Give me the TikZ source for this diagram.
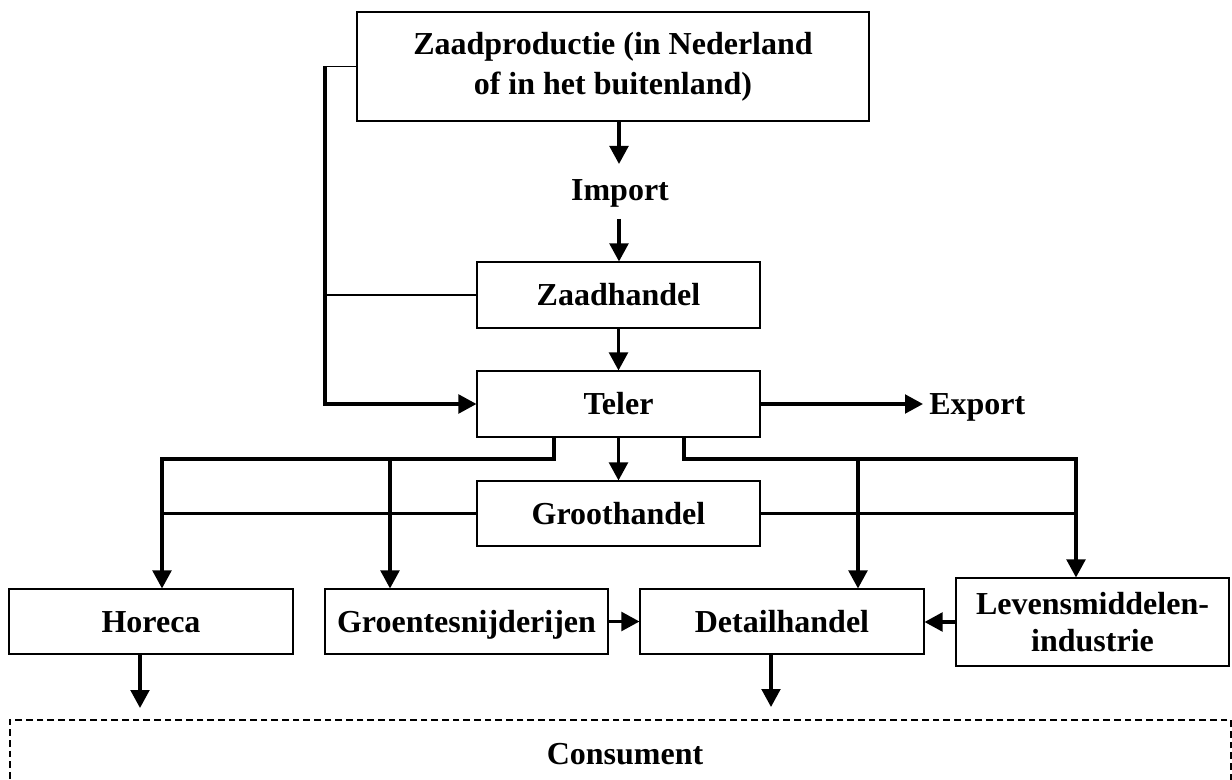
\documentclass[tikz,border=0pt]{standalone}
\usepackage{fontspec}
\setmainfont{Liberation Serif}
\usetikzlibrary{arrows.meta}
\begin{document}
\begin{tikzpicture}[x=0.75pt,y=-0.75pt,
  box/.style={draw, line width=0.8pt, inner sep=0pt, align=center,
    font=\bfseries\fontsize{24}{29}\selectfont},
  sbox/.style={box, text height=16.5pt, text depth=0pt},
  lbl/.style={inner sep=0pt, text height=16.5pt, text depth=0pt,
    font=\bfseries\fontsize{24}{29}\selectfont},
  thickline/.style={line width=2.4pt},
  arr/.style={line width=2.4pt, -{Triangle[length=13.5pt,width=14pt]}},
  thinline/.style={line width=0.8pt}]
\useasboundingbox (0,0) rectangle (1232,780);

% nodes
\node[box, minimum width=384pt, minimum height=81.75pt, font=\bfseries\fontsize{24}{30}\selectfont]
  (zaad) at (613,66.5) {Zaadproductie (in Nederland\\of in het buitenland)};
\node[lbl] (import) at (620,190) {Import};
\node[sbox, minimum width=212.25pt, minimum height=49.5pt] (zhandel) at (618.5,295) {Zaadhandel};
\node[sbox, minimum width=212.25pt, minimum height=49.5pt] (teler) at (618.5,404) {Teler};
\node[lbl, inner sep=4.5pt, anchor=west] (export) at (923,404) {Export};
\node[sbox, minimum width=212.25pt, minimum height=48.75pt] (groot) at (618.5,513.5) {Groothandel};
\node[sbox, minimum width=213pt, minimum height=48.75pt] (horeca) at (151,621.5) {Horeca};
\node[sbox, minimum width=212.25pt, minimum height=48.75pt] (groente) at (466.5,621.5) {Groentesnijderijen};
\node[sbox, minimum width=213pt, minimum height=48.75pt] (detail) at (782,621.5) {Detailhandel};
\node[box, minimum width=204.75pt, minimum height=66pt, font=\bfseries\fontsize{24}{28}\selectfont]
  (levens) at (1092.5,622) {Levensmiddelen-\\industrie};
\node[draw, dashed, dash pattern=on 5pt off 3pt, line width=1pt, inner sep=0pt,
  minimum width=915.75pt, minimum height=49.5pt, text height=16.5pt, text depth=0pt,
  font=\bfseries\fontsize{24}{29}\selectfont] (cons) at (620.5,753) {};
\node[lbl] (constext) at (625,753) {Consument};

% coordinates
\coordinate (lft) at (325,66.5);
\coordinate (imp1) at (619,164);
\coordinate (imp2) at (619,219);
\coordinate (tl) at (554,459);
\coordinate (hl) at (162,459);
\coordinate (gl) at (390,459);
\coordinate (tr) at (684,459);
\coordinate (lr) at (1076,459);
\coordinate (dr) at (858,459);
\coordinate (hc) at (140,708);
\coordinate (dc) at (771,707);

% connectors
\draw[thinline] (zaad.west) -- (lft);
\draw[arr] (lft) -- (lft |- teler.west) -- (teler.west);
\draw[thinline] (zhandel.west) -- (zhandel.west -| lft);
\draw[arr] (imp1 |- zaad.south) -- (imp1);
\draw[arr] (imp2) -- (imp2 |- zhandel.north);
\draw[arr] (zhandel) -- (teler);
\draw[arr] (teler.east) -- (export.west);
\draw[arr] (teler) -- (groot);
\draw[arr] (tl |- teler.south) -- (tl) -- (hl) -- (hl |- horeca.north);
\draw[arr] (gl) -- (gl |- groente.north);
\draw[thickline] (groot.west) -- (groot.west -| hl);
\draw[arr] (tr |- teler.south) -- (tr) -- (lr) -- (lr |- levens.north);
\draw[arr] (dr) -- (dr |- detail.north);
\draw[thickline] (groot.east) -- (groot.east -| lr);
\draw[arr] (groente.east) -- (detail.west);
\draw[arr] (levens.west) -- (levens.west -| detail.east);
\draw[arr] (hc |- horeca.south) -- (hc);
\draw[arr] (dc |- detail.south) -- (dc);
\end{tikzpicture}
\end{document}
